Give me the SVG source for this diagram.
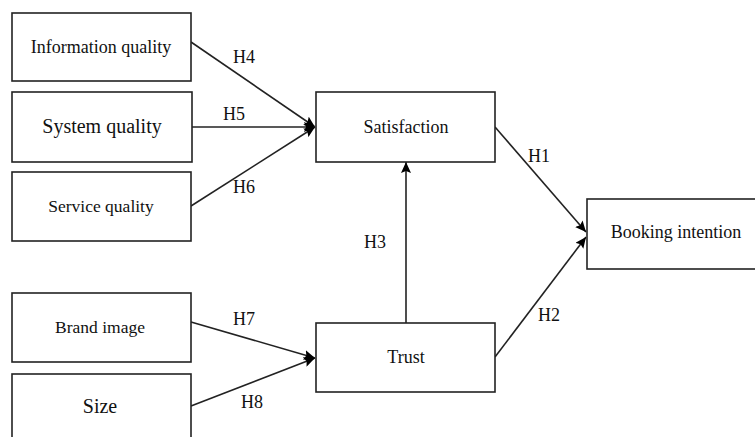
<svg xmlns="http://www.w3.org/2000/svg" width="755" height="437" viewBox="0 0 755 437">
<defs>
<style>
.box{fill:#fff;stroke:#222;stroke-width:1.6}
text{font-family:'Liberation Serif',Tinos,'Times New Roman','DejaVu Serif',serif;font-size:18px;fill:#111}
.t{text-anchor:middle}
.big{font-size:20px}
.c{stroke:#222;stroke-width:1.6;fill:none;marker-end:url(#ah)}
</style>
<marker id="ah" markerUnits="userSpaceOnUse" markerWidth="12" markerHeight="10" refX="11" refY="5" orient="auto">
<path d="M0,0 L11,5 L0,10 L2,5 Z" fill="#000"/>
</marker>
</defs>
<rect width="755" height="437" fill="#fff"/>
<g id="connectors" font-family="Liberation Serif, serif">
<line class="c" x1="191" y1="42" x2="315" y2="127"/>
<line class="c" x1="191" y1="127" x2="315" y2="127"/>
<line class="c" x1="191" y1="206" x2="315" y2="127"/>
<line class="c" x1="191" y1="322" x2="315" y2="358"/>
<line class="c" x1="191" y1="406" x2="315" y2="358"/>
<line class="c" x1="406" y1="323" x2="406" y2="162"/>
<line class="c" x1="495" y1="127" x2="586" y2="232"/>
<line class="c" x1="495" y1="357" x2="586" y2="237"/>
<text x="233" y="63">H4</text>
<text x="223" y="120">H5</text>
<text x="233" y="193">H6</text>
<text x="528" y="162">H1</text>
<text x="364" y="248">H3</text>
<text x="538" y="321">H2</text>
<text x="233" y="325">H7</text>
<text x="241" y="408">H8</text>
</g>
<g id="info">
<rect class="box" x="12" y="13" width="179" height="68"/>
<text class="t" x="101" y="53">Information quality</text>
</g>
<g id="system">
<rect class="box" x="12" y="92" width="180" height="70"/>
<text class="t big" x="102" y="133">System quality</text>
</g>
<g id="service">
<rect class="box" x="12" y="172" width="179" height="69"/>
<text class="t" x="101" y="212" style="font-size:17.5px">Service quality</text>
</g>
<g id="satisfaction">
<rect class="box" x="316" y="92" width="179" height="70"/>
<text class="t" x="406" y="133">Satisfaction</text>
</g>
<g id="booking">
<rect class="box" x="587" y="199" width="175" height="70"/>
<text class="t" x="676" y="238">Booking intention</text>
</g>
<g id="brand">
<rect class="box" x="12" y="293" width="179" height="69"/>
<text class="t" x="100" y="333" style="font-size:17.5px">Brand image</text>
</g>
<g id="trust">
<rect class="box" x="316" y="323" width="179" height="69"/>
<text class="t" x="406" y="363">Trust</text>
</g>
<g id="size">
<rect class="box" x="12" y="374" width="179" height="80"/>
<text class="t big" x="100" y="413">Size</text>
</g>
</svg>
